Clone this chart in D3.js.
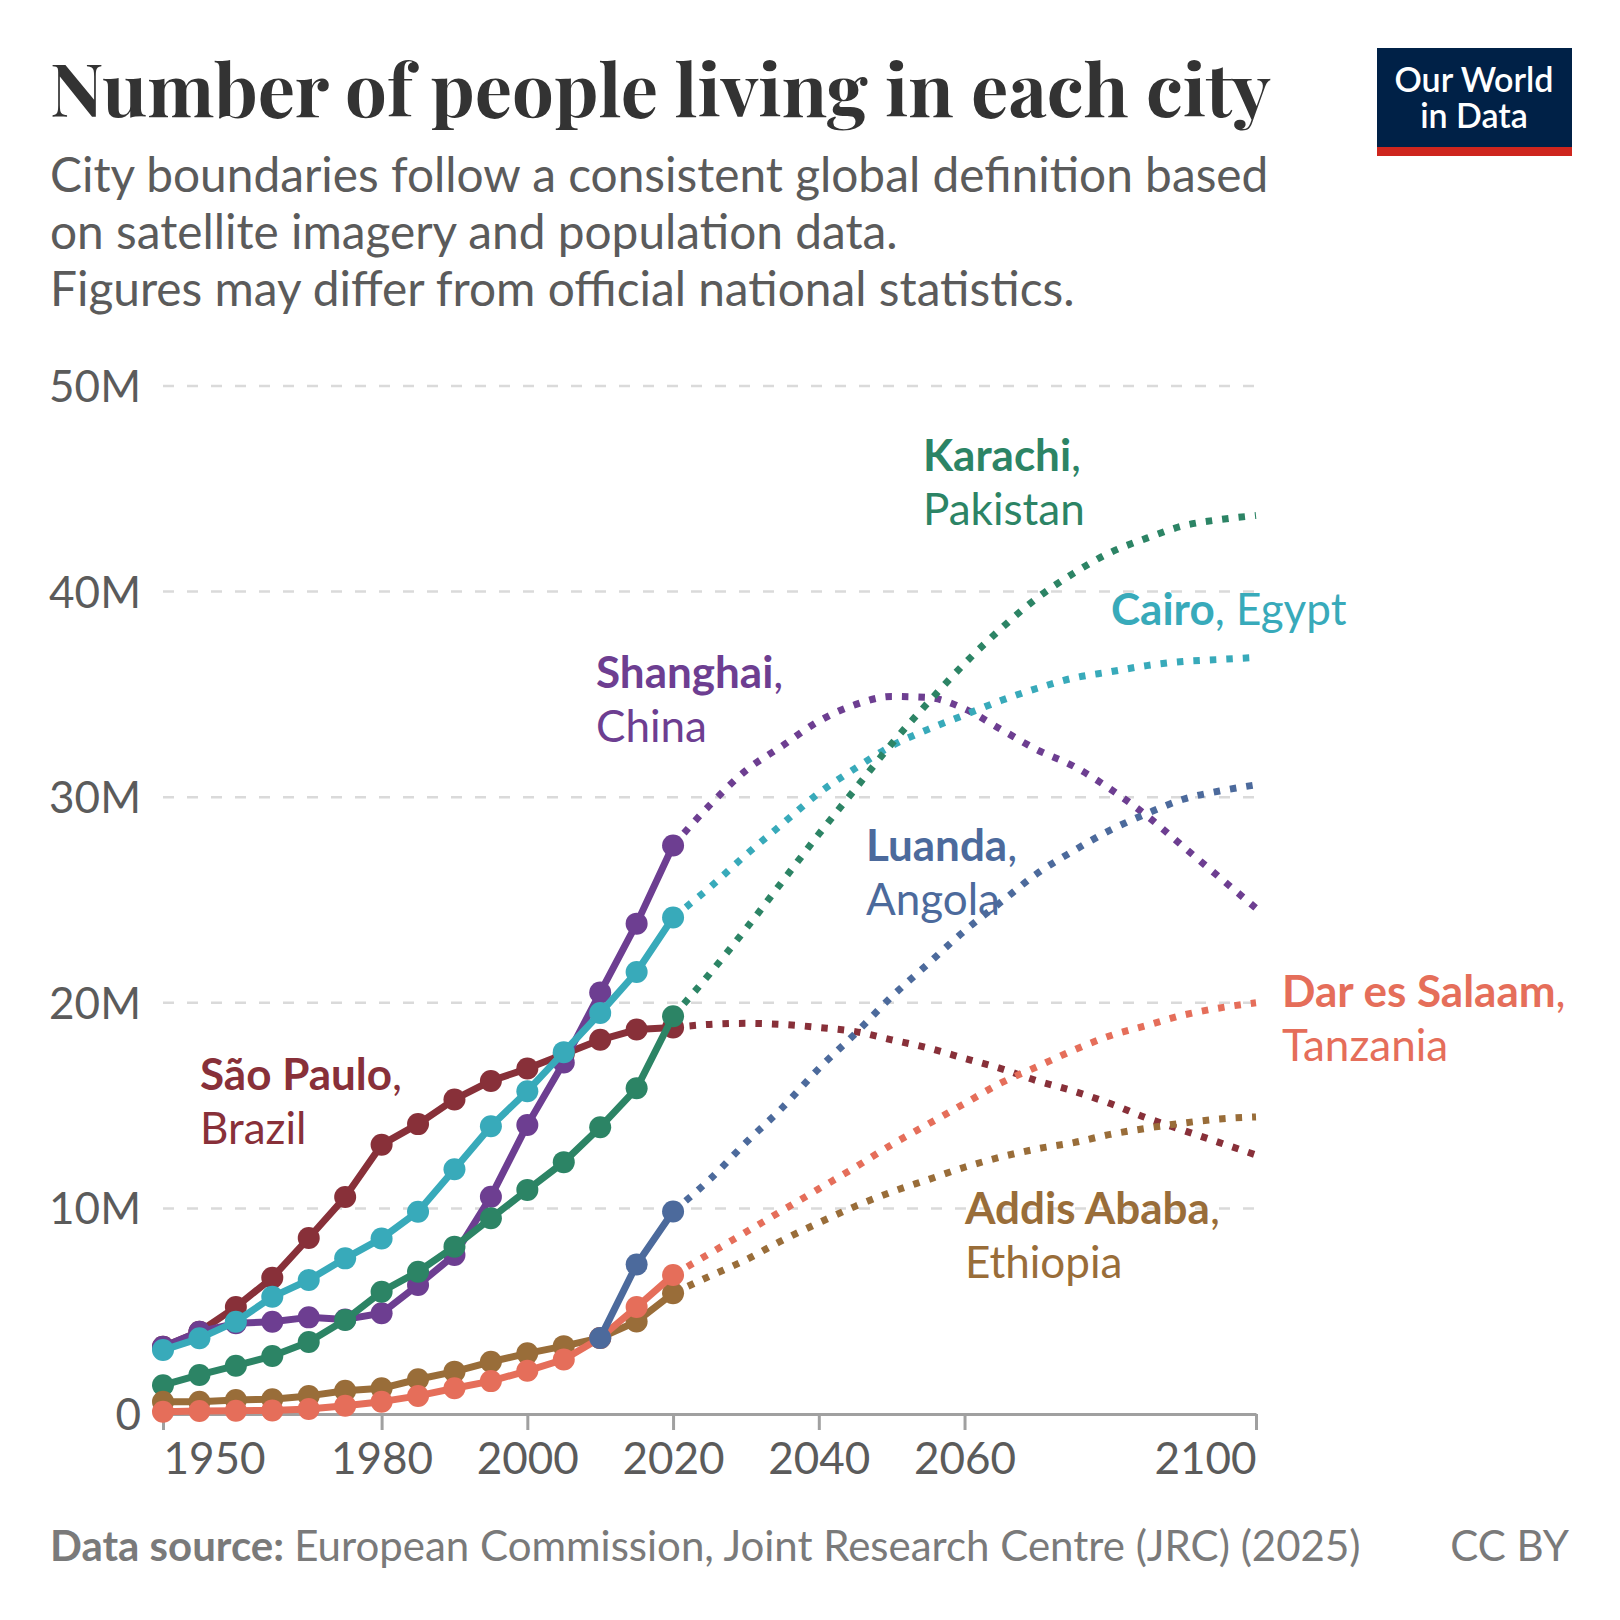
<!DOCTYPE html>
<html>
<head>
<meta charset="utf-8">
<script src="https://cdn.jsdelivr.net/npm/d3@7"></script>
<style>
  html, body { margin: 0; padding: 0; background: #fff; }
  svg text { font-family: Lato, "Noto Sans", sans-serif; }
</style>
</head>
<body>
<div id="chart"></div>
<script>
//Years and values (millions of people)
var years = [1950, 1955, 1960, 1965, 1970, 1975, 1980, 1985, 1990, 1995, 2000, 2005, 2010, 2015, 2020];
var projYears = [2020, 2025, 2030, 2035, 2040, 2045, 2050, 2055, 2060, 2065, 2070, 2075, 2080, 2085, 2090, 2095, 2100];

var saoPaulo     = [3.27, 4.0, 5.2, 6.63, 8.56, 10.55, 13.1, 14.1, 15.3, 16.2, 16.8, 17.5, 18.2, 18.7, 18.8];
var saoPauloProj = [18.8, 18.95, 19.0, 18.95, 18.8, 18.6, 18.2, 17.8, 17.3, 16.8, 16.2, 15.7, 15.1, 14.4, 13.8, 13.2, 12.6];

var shanghai     = [3.27, 4.0, 4.41, 4.49, 4.7, 4.6, 4.9, 6.27, 7.73, 10.57, 14.06, 17.1, 20.5, 23.85, 27.65];
var shanghaiProj = [27.65, 29.6, 31.3, 32.5, 33.7, 34.5, 34.9, 34.85, 34.3, 33.3, 32.3, 31.5, 30.4, 29.1, 27.6, 26.1, 24.6];

var cairo     = [3.11, 3.68, 4.49, 5.7, 6.52, 7.57, 8.54, 9.84, 11.9, 14.0, 15.7, 17.6, 19.5, 21.5, 24.15];
var cairoProj = [24.15, 25.6, 27.2, 28.7, 30.2, 31.4, 32.5, 33.3, 34.0, 34.7, 35.3, 35.8, 36.1, 36.4, 36.6, 36.7, 36.8];

var karachi     = [1.4, 1.9, 2.35, 2.82, 3.5, 4.57, 5.95, 6.92, 8.14, 9.52, 10.9, 12.25, 13.95, 15.84, 19.35];
var karachiProj = [19.35, 21.4, 23.6, 25.9, 28.2, 30.4, 32.6, 34.6, 36.5, 38.2, 39.7, 40.9, 41.9, 42.6, 43.2, 43.5, 43.7];

var addis     = [0.6, 0.6, 0.68, 0.72, 0.88, 1.13, 1.25, 1.69, 2.06, 2.54, 2.95, 3.3, 3.7, 4.5, 5.87];
var addisProj = [5.87, 6.7, 7.5, 8.45, 9.3, 10.1, 10.8, 11.4, 12.0, 12.5, 12.9, 13.2, 13.6, 13.9, 14.15, 14.35, 14.45];

var dar     = [0.11, 0.15, 0.16, 0.17, 0.24, 0.4, 0.6, 0.88, 1.25, 1.6, 2.1, 2.65, 3.7, 5.2, 6.76];
var darProj = [6.76, 7.8, 8.85, 9.9, 10.95, 12.0, 13.1, 14.1, 15.1, 16.1, 16.9, 17.7, 18.4, 18.9, 19.4, 19.75, 20.0];

//Luanda only shows from 2010 on
var luanda     = [null, null, null, null, null, null, null, null, null, null, null, null, 3.7, 7.27, 9.85];
var luandaProj = [9.85, 11.4, 13.2, 14.9, 16.8, 18.5, 20.3, 21.9, 23.5, 24.9, 26.3, 27.4, 28.4, 29.2, 29.9, 30.3, 30.6];

var xTicks = [1950, 1980, 2000, 2020, 2040, 2060, 2100];
var yTicks = [0, 10, 20, 30, 40, 50];
var yTickLabels = ["0", "10M", "20M", "30M", "40M", "50M"];

//Drawing order: first is at the bottom
var cities = [
  {name: "São Paulo", country: "Brazil", hist: saoPaulo, proj: saoPauloProj, color: "#883039", lx: 200, ly: 1090, inline: false},
  {name: "Shanghai", country: "China", hist: shanghai, proj: shanghaiProj, color: "#6D3E91", lx: 596, ly: 688, inline: false},
  {name: "Cairo", country: "Egypt", hist: cairo, proj: cairoProj, color: "#38AABA", lx: 1111, ly: 625, inline: true},
  {name: "Karachi", country: "Pakistan", hist: karachi, proj: karachiProj, color: "#2C8465", lx: 923, ly: 471, inline: false},
  {name: "Addis Ababa", country: "Ethiopia", hist: addis, proj: addisProj, color: "#996D39", lx: 965, ly: 1224, inline: false},
  {name: "Dar es Salaam", country: "Tanzania", hist: dar, proj: darProj, color: "#E56E5A", lx: 1282, ly: 1007, inline: false},
  {name: "Luanda", country: "Angola", hist: luanda, proj: luandaProj, color: "#4C6A9C", lx: 866, ly: 861, inline: false}
];

///////////////////////////////////////////////////////////////////////////
///////////////////////////// Set up the svg //////////////////////////////
///////////////////////////////////////////////////////////////////////////

var W = 1620, H = 1620;
var svg = d3.select("#chart").append("svg")
  .attr("width", W)
  .attr("height", H);

var x = d3.scaleLinear().domain([1950, 2100]).range([163, 1256]);
var y = d3.scaleLinear().domain([0, 50]).range([1414, 386]);

//Title
var title = svg.append("text")
  .attr("x", 50).attr("y", 117)
  .style("font-family", "'Playfair Display', 'Liberation Serif', 'DejaVu Serif', serif")
  .style("font-weight", 700)
  .style("font-size", "78px")
  .style("fill", "#333")
  .text("Number of people living in each city");
//squeeze the fallback serif to the width of the original
var tw = title.node().getComputedTextLength();
if (tw > 1221) title.style("font-size", (78 * 1221 / tw) + "px");

//Subtitle
var subtitle = ["City boundaries follow a consistent global definition based",
  "on satellite imagery and population data.",
  "Figures may differ from official national statistics."];
svg.selectAll("text.subtitle")
  .data(subtitle).enter().append("text")
  .attr("class", "subtitle")
  .attr("x", 50)
  .attr("y", function(d, i) { return 192 + i * 57; })
  .style("font-size", "47.8px")
  .style("fill", "#5b5b5b")
  .text(function(d) { return d; });

//Logo (one text, two lines)
var logo = svg.append("g").attr("class", "logo");
logo.append("rect").attr("x", 1377).attr("y", 48).attr("width", 195).attr("height", 100).style("fill", "#002147");
logo.append("rect").attr("x", 1377).attr("y", 147).attr("width", 195).attr("height", 9).style("fill", "#ce261e");
var logoText = logo.append("text")
  .attr("text-anchor", "middle")
  .style("font-size", "34px")
  .style("font-weight", 600)
  .style("fill", "#fff");
logoText.selectAll("tspan")
  .data(["Our World", "in Data"]).enter().append("tspan")
  .attr("x", 1474)
  .attr("y", function(d, i) { return 92 + i * 36; })
  .text(function(d) { return d; });

///////////////////////////////////////////////////////////////////////////
///////////////////////////////// Axes ////////////////////////////////////
///////////////////////////////////////////////////////////////////////////

//Grid lines
svg.append("g").attr("class", "grid")
  .selectAll("line")
  .data(yTicks.filter(function(d) { return d > 0; }))
  .enter().append("line")
  .attr("x1", x(1950)).attr("x2", x(2100))
  .attr("y1", function(d) { return y(d); })
  .attr("y2", function(d) { return y(d); })
  .style("stroke", "#dadada")
  .style("stroke-width", 2.5)
  .style("stroke-dasharray", "11,13");

//Y axis labels
var yAxis = svg.append("g")
  .attr("transform", "translate(141,0)")
  .call(d3.axisLeft(y).tickValues(yTicks).tickSize(0).tickPadding(0)
    .tickFormat(function(d, i) { return yTickLabels[i]; }));
yAxis.select(".domain").remove();
yAxis.selectAll("text")
  .attr("dy", "0.35em")
  .style("font-family", "Lato, sans-serif")
  .style("font-size", "44px")
  .style("fill", "#5b5b5b");

//X axis
var xAxis = svg.append("g")
  .attr("transform", "translate(0," + y(0) + ")")
  .call(d3.axisBottom(x).tickValues(xTicks).tickSize(16).tickSizeOuter(0)
    .tickFormat(d3.format("d")));
xAxis.select(".domain").style("stroke", "#a0a0a0").style("stroke-width", 3);
xAxis.selectAll(".tick line").style("stroke", "#a0a0a0").style("stroke-width", 3);
xAxis.selectAll("text")
  .attr("y", 60)
  .attr("dy", 0)
  .style("font-family", "Lato, sans-serif")
  .style("font-size", "44px")
  .style("fill", "#5b5b5b")
  .attr("text-anchor", function(d) { return d == 1950 ? "start" : (d == 2100 ? "end" : "middle"); });

///////////////////////////////////////////////////////////////////////////
///////////////////////////////// Lines ///////////////////////////////////
///////////////////////////////////////////////////////////////////////////

var histLine = d3.line()
  .defined(function(d) { return d != null; })
  .x(function(d, i) { return x(years[i]); })
  .y(function(d) { return y(d); });

var projLine = d3.line()
  .x(function(d, i) { return x(projYears[i]); })
  .y(function(d) { return y(d); })
  .curve(d3.curveMonotoneX);

//Projections first, dotted
var projContainer = svg.append("g").attr("class", "projections");
projContainer.selectAll("path")
  .data(cities).enter().append("path")
  .attr("d", function(d) { return projLine(d.proj); })
  .style("fill", "none")
  .style("stroke", function(d) { return d.color; })
  .style("stroke-width", 7)
  .style("stroke-dasharray", "6.5,10");

//Historical lines with dots
var cityContainer = svg.append("g").attr("class", "cities");
var city = cityContainer.selectAll("g.city")
  .data(cities).enter().append("g")
  .attr("class", "city");

city.append("path")
  .attr("d", function(d) { return histLine(d.hist); })
  .style("fill", "none")
  .style("stroke", function(d) { return d.color; })
  .style("stroke-width", 7)
  .style("stroke-linejoin", "round");

city.selectAll("circle")
  .data(function(d) {
    return d.hist.map(function(v, i) { return {v: v, year: years[i], color: d.color}; })
      .filter(function(p) { return p.v != null; });
  })
  .enter().append("circle")
  .attr("cx", function(p) { return x(p.year); })
  .attr("cy", function(p) { return y(p.v); })
  .attr("r", 11)
  .style("fill", function(p) { return p.color; });

///////////////////////////////////////////////////////////////////////////
//////////////////////////////// Labels ///////////////////////////////////
///////////////////////////////////////////////////////////////////////////

var labels = svg.append("g").attr("class", "labels");
cities.forEach(function(c) {
  var t = labels.append("text")
    .attr("x", c.lx).attr("y", c.ly)
    .style("font-size", "44px")
    .style("fill", c.color);
  t.append("tspan").style("font-weight", 700).text(c.name);
  if (c.inline) {
    t.append("tspan").text(", " + c.country);
  } else {
    t.append("tspan").text(",");
    labels.append("text")
      .attr("x", c.lx).attr("y", c.ly + 54)
      .style("font-size", "44px")
      .style("fill", c.color)
      .text(c.country);
  }
});

//Footer
var source = svg.append("text")
  .attr("x", 50).attr("y", 1561)
  .style("font-size", "42px")
  .style("fill", "#7a7a7a");
source.append("tspan").style("font-weight", 700).text("Data source: ");
source.append("tspan").text("European Commission, Joint Research Centre (JRC) (2025)");

svg.append("text")
  .attr("x", 1569).attr("y", 1561)
  .attr("text-anchor", "end")
  .style("font-size", "42px")
  .style("fill", "#7a7a7a")
  .text("CC BY");
</script>
</body>
</html>
